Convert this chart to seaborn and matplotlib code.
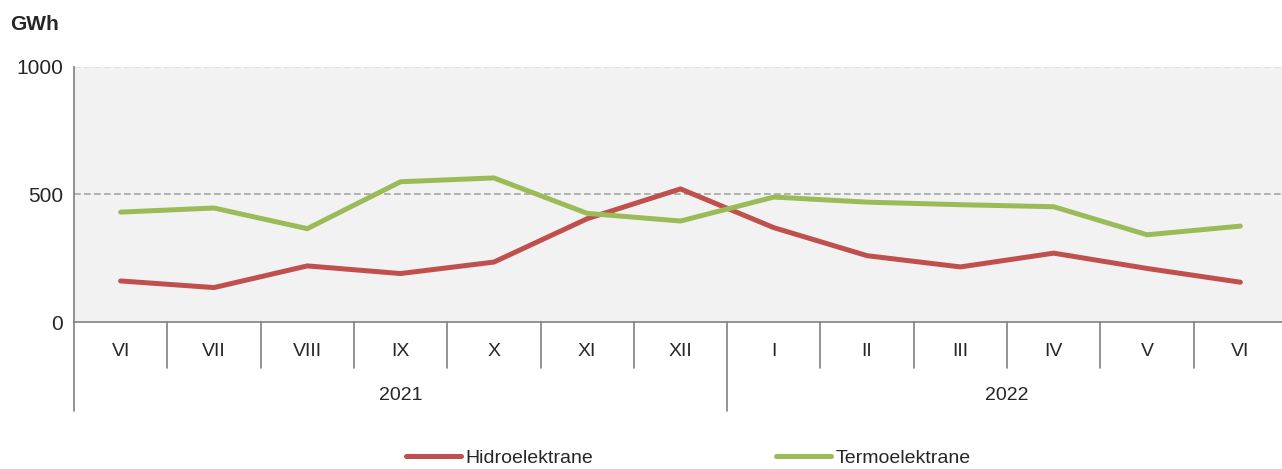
import matplotlib
matplotlib.use("Agg")
import matplotlib.pyplot as plt
import seaborn as sns
import pandas as pd

months = ['VI', 'VII', 'VIII', 'IX', 'X', 'XI', 'XII', 'I', 'II', 'III', 'IV', 'V', 'VI']
years = ['2021', '2022']
year_span = [7, 6]  # months per year
hidro = [161, 135, 220, 190, 235, 405, 522, 370, 260, 216, 270, 210, 156]
termo = [431, 447, 366, 550, 565, 426, 396, 490, 470, 460, 452, 342, 376]

df = pd.DataFrame({
    'pos': list(range(len(months))) * 2,
    'value': hidro + termo,
    'serija': ['Hidroelektrane'] * len(months) + ['Termoelektrane'] * len(months),
})

sns.set_style("white")
plt.rcParams['font.family'] = ['Liberation Sans', 'DejaVu Sans']

fig = plt.figure(figsize=(12.82, 4.69), dpi=100)
# plot area runs slightly past the right edge, as in the original
ax = fig.add_axes([74 / 1282, 1 - 322 / 469, 1213 / 1282, 255 / 469])
ax.set_facecolor('#F2F2F2')

sns.lineplot(data=df, x='pos', y='value', hue='serija',
             palette={'Hidroelektrane': '#C0504D', 'Termoelektrane': '#9BBB59'},
             linewidth=3.6, ax=ax, legend=False, zorder=3)

ax.set_xlim(-0.5, len(months) - 0.5)
ax.set_ylim(0, 1000)
ax.set_yticks([0, 500, 1000])
ax.set_yticklabels(['0', '500', '1000'], fontsize=15)
ax.tick_params(axis='y', length=5, color='#808080', pad=3)
ax.set_xticks([])
ax.set_xlabel('')
ax.set_ylabel('')
ax.axhline(500, color='#A6A6A6', linestyle=(0, (4, 2)), linewidth=1.2, zorder=1)
ax.axhline(1000, color='#DDDDDD', linestyle=(0, (4, 2)), linewidth=1.2, zorder=1)

for s in ['top', 'right']:
    ax.spines[s].set_visible(False)
ax.spines['left'].set_color('#808080')
ax.spines['bottom'].set_color('#808080')
ax.spines['left'].set_linewidth(1.2)
ax.spines['bottom'].set_linewidth(1.2)

# category axis below plot
trans = ax.get_xaxis_transform()
for i, m in enumerate(months):
    ax.text(i, -0.115, m, transform=trans, ha='center', va='center', fontsize=14)
for b in range(1, len(months)):
    bottom = -0.35 if b == year_span[0] else -0.18
    ax.plot([b - 0.5, b - 0.5], [0, bottom], transform=trans, color='#808080',
            linewidth=1.2, clip_on=False)
ax.plot([-0.5, -0.5], [0, -0.35], transform=trans, color='#808080',
        linewidth=1.2, clip_on=False)
start = 0
for yr, n in zip(years, year_span):
    ax.text(start + (n - 1) / 2, -0.29, yr, transform=trans, ha='center',
            va='center', fontsize=14)
    start += n

fig.text(10 / 1282, 1 - 25 / 469, 'GWh', fontsize=15, fontweight='bold',
         va='center', ha='left')

# legend
handles = [plt.Line2D([], [], color='#C0504D', linewidth=3.6),
           plt.Line2D([], [], color='#9BBB59', linewidth=3.6)]
fig.legend(handles, ['Hidroelektrane', 'Termoelektrane'], loc='center',
           bbox_to_anchor=(0.537, 1 - 458 / 469), ncol=2, frameon=False,
           fontsize=14, handlelength=2.8, handletextpad=0.25, columnspacing=9.4)

fig.savefig('out.png', dpi=100)
